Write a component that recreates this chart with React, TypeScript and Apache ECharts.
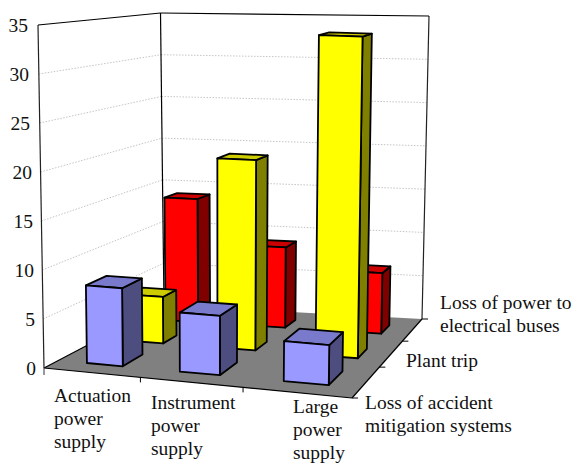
import React, { useEffect, useRef } from "react";
import * as echarts from "echarts";

const categories = ["Actuation\npower\nsupply", "Instrument\npower\nsupply", "Large\npower\nsupply"];
const depthLabels = ["Loss of accident\nmitigation systems", "Plant trip", "Loss of power to\nelectrical buses"];
const yTicks = [0, 5, 10, 15, 20, 25, 30, 35];
const lossOfMitigation = [8, 6, 4];
const plantTrip = [5, 20.2, 33.7];
const lossOfPower = [14, 9, 6.7];

const FONT = "'Liberation Serif','Times New Roman',serif";
const L = 44, T = 25, W = 308, H = 343;

type P = [number, number];
function homography(q: P[]) {
  const [[x0, y0], [x1, y1], [x2, y2], [x3, y3]] = q;
  const dx1 = x1 - x2, dx2 = x3 - x2, sx = x0 - x1 + x2 - x3;
  const dy1 = y1 - y2, dy2 = y3 - y2, sy = y0 - y1 + y2 - y3;
  const den = dx1 * dy2 - dx2 * dy1;
  const g = (sx * dy2 - dx2 * sy) / den, h = (dx1 * sy - sx * dy1) / den;
  const a = x1 - x0 + g * x1, b = x3 - x0 + h * x3, d = y1 - y0 + g * y1, e = y3 - y0 + h * y3;
  return (u: number, v: number): P => {
    const k = g * u + h * v + 1;
    return [(a * u + b * v + x0) / k, (d * u + e * v + y0) / k];
  };
}
const floor = homography([[44, 368], [352, 398], [422, 319], [164, 305]]);
// full-height offset at each floor corner: front-left, front-right, back-right, back-left
const rise: P[] = [[-6, -343], [5, -358], [7, -303], [-3.5, -292]];
const proj = (u: number, w: number, h: number): P => {
  const a = floor(u, w);
  const k = [(1 - u) * (1 - w), u * (1 - w), u * w, (1 - u) * w];
  let dx = 0, dy = 0;
  rise.forEach((r, i) => { dx += r[0] * k[i]; dy += r[1] * k[i]; });
  return [a[0] + dx * h, a[1] + dy * h];
};

const HALF_U = 0.0665, BAR_SHIFT = 0.0185;

function barSeries(name: string, values: number[], w0: number, w1: number, rowShift: number, front: string, side: string, top: string) {
  return {
    type: "custom",
    name,
    coordinateSystem: "cartesian2d",
    silent: true,
    data: values.map((v, i) => [i, v]),
    renderItem: (_p: any, api: any) => {
      const c = api.coord([api.value(0), api.value(1)]);
      const base = api.coord([api.value(0), 0]);
      const top0 = api.coord([api.value(0), 35]);
      const u = (c[0] - L) / W + BAR_SHIFT + rowShift;
      const h = (base[1] - c[1]) / (base[1] - top0[1]);
      const u0 = u - HALF_U, u1 = u + HALF_U;
      const st = (fill: string) => ({ fill, stroke: "#000", lineWidth: 1.8, lineJoin: "round" });
      return {
        type: "group",
        children: [
          { type: "polygon", shape: { points: [proj(u1, w0, 0), proj(u1, w1, 0), proj(u1, w1, h), proj(u1, w0, h)] }, style: st(side) },
          { type: "polygon", shape: { points: [proj(u0, w0, h), proj(u1, w0, h), proj(u1, w1, h), proj(u0, w1, h)] }, style: st(top) },
          { type: "polygon", shape: { points: [proj(u0, w0, 0), proj(u1, w0, 0), proj(u1, w0, h), proj(u0, w0, h)] }, style: st(front) },
        ],
      };
    },
  };
}

const catLabelPos: P[] = [[54, 384], [151, 391], [293, 395]];
const depthLabelPos: P[] = [[365, 391], [406, 349], [440, 291]];

const frameSeries = {
  type: "custom",
  name: "frame",
  coordinateSystem: "cartesian2d",
  silent: true,
  data: [[0, 0]],
  renderItem: (_p: any, api: any) => {
    const kids: any[] = [];
    const line = (a: P, b: P, stroke: string, lineWidth: number, lineDash?: number[]) =>
      kids.push({ type: "line", shape: { x1: a[0], y1: a[1], x2: b[0], y2: b[1] }, style: { stroke, lineWidth, lineDash } });
    const base = api.coord([0, 0])[1], top = api.coord([0, 35])[1];
    yTicks.forEach((t) => {
      if (t === 0 || t === 35) return;
      const h = (base - api.coord([0, t])[1]) / (base - top);
      line(proj(0, 0, h), proj(0, 1, h), "#bdbdbd", 0.9, [1.5, 1.5]);
      line(proj(0, 1, h), proj(1, 1, h), "#bdbdbd", 0.9, [1.5, 1.5]);
    });
    kids.push({
      type: "polygon",
      shape: { points: [proj(0, 0, 0), proj(1, 0, 0), proj(1, 1, 0), proj(0, 1, 0)] },
      style: { fill: "#808080", stroke: "none" },
    });
    line(proj(0, 0, 0), proj(1, 0, 0), "#000", 1.2);
    line(proj(0, 0, 0), proj(0, 1, 0), "#000", 1.2);
    line(proj(1, 0, 0), proj(1, 1, 0), "#000", 1.2);
    line(proj(0, 0, 0), proj(0, 0, 1), "#222", 1.2);
    line(proj(0, 1, 0), proj(0, 1, 1), "#000", 1.2);
    line(proj(1, 1, 0), proj(1, 1, 1), "#222", 1.2);
    line(proj(0, 0, 1), proj(0, 1, 1), "#000", 1.2);
    line(proj(0, 1, 1), proj(1, 1, 1), "#000", 1.2);
    line(proj(0, 0, 0), [44, 375], "#555", 1.2);
    [0, 1].forEach((i) => {
      const p = proj((i + 1) / 3 + BAR_SHIFT, 0, 0);
      line(p, [p[0], p[1] + 5], "#000", 1);
    });
    [0, 1, 2, 3].forEach((i) => {
      const p = proj(1, i / 3, 0);
      line(p, [p[0] + 6, p[1]], "#000", 1);
    });
    categories.forEach((s, i) =>
      kids.push({
        type: "text",
        style: { x: catLabelPos[i][0], y: catLabelPos[i][1], text: s, font: `19.5px ${FONT}`, lineHeight: 23, fill: "#111", textAlign: "left", textVerticalAlign: "top" },
      })
    );
    depthLabels.forEach((s, i) =>
      kids.push({
        type: "text",
        style: { x: depthLabelPos[i][0], y: depthLabelPos[i][1], text: s, font: `19.5px ${FONT}`, lineHeight: 23, fill: "#111", textAlign: "left", textVerticalAlign: "top" },
      })
    );
    return { type: "group", children: kids };
  },
};

export default function App() {
  const ref = useRef<HTMLDivElement>(null);
  useEffect(() => {
    document.body.style.margin = "0";
    const chart = echarts.init(ref.current!, null, { renderer: "svg" });
    const rich: any = {};
    yTicks.forEach((t) => {
      const x = proj(0, 0, t / 35)[0];
      rich["t" + t] = { padding: [0, Math.round((44 - x) * 1.3), 0, 0], fontSize: 19.5, fontFamily: FONT, color: "#111" };
    });
    chart.setOption({
      animation: false,
      backgroundColor: "#fff",
      grid: { left: L, top: T, width: W, height: H, containLabel: false },
      xAxis: { type: "category", data: categories, show: false },
      yAxis: {
        type: "value",
        min: 0,
        max: 35,
        interval: 5,
        axisLine: { show: false },
        axisTick: { show: false },
        splitLine: { show: false },
        axisLabel: { margin: 8, formatter: (v: number) => `{t${v}|${v}}`, rich, fontFamily: FONT, fontSize: 19.5 },
      },
      series: [
        frameSeries,
        barSeries("Loss of power to electrical buses", lossOfPower, 0.75, 0.875, -0.004, "#ff0000", "#800000", "#cc0000"),
        barSeries("Plant trip", plantTrip, 0.415, 0.535, -0.002, "#ffff00", "#808000", "#cccc00"),
        barSeries("Loss of accident mitigation systems", lossOfMitigation, 0.1, 0.255, -0.009, "#9999ff", "#4d4d80", "#7a7acc"),
      ],
    });
    return () => chart.dispose();
  }, []);
  return <div ref={ref} style={{ width: 574, height: 463 }} />;
}
